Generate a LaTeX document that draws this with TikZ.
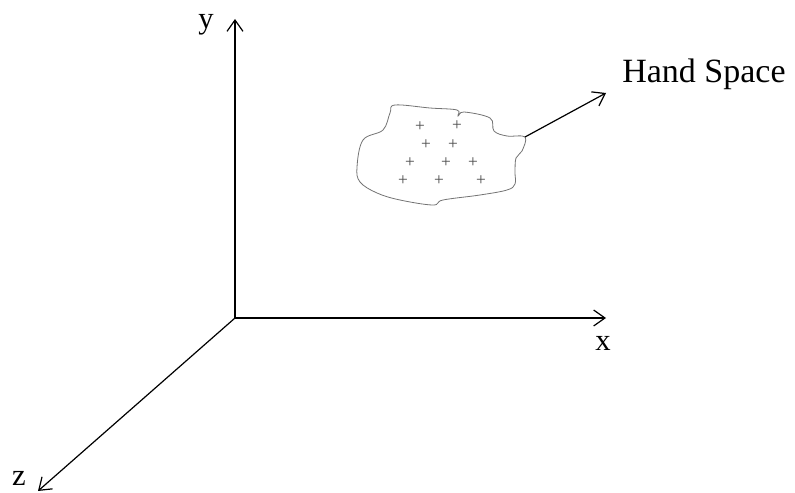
\documentclass[tikz,border=0pt]{standalone}
\usepackage{fontspec}
\setmainfont{Liberation Serif}
\usetikzlibrary{arrows.meta}
\begin{document}
\begin{tikzpicture}[x=0.75pt,y=-0.75pt,
  axis/.style={line width=0.9pt,-{Straight Barb[length=8.5pt,width=12pt,line width=0.9pt]}},
  lbl/.style={font=\fontsize{23}{27}\selectfont,inner sep=0pt},
  biglbl/.style={font=\fontsize{25.5}{30}\selectfont,inner sep=0pt},
  pt/.style={font=\fontsize{13}{15}\selectfont,text=black!70,inner sep=0pt},
  blob/.style={draw=black!55,line width=0.6pt}]
\useasboundingbox (0,0) rectangle (795,492);
\coordinate (o) at (235,318);
\coordinate (ytip) at (235,19);
\coordinate (xtip) at (606,318);
\coordinate (ztip) at (38,491);
\coordinate (att) at (525,137);
\coordinate (htip) at (606,93);
\draw[axis] (o) -- (ytip);
\draw[axis] (o) -- (xtip);
\draw[axis] (o) -- (ztip);
\node[lbl,anchor=base] (ly) at (206,29) {y};
\node[lbl,anchor=base] (lx) at (603,350) {x};
\node[lbl,anchor=base] (lz) at (19,485) {z};
\node[biglbl,anchor=base west] (lh) at (622,82) {Hand Space};
\draw[blob] plot[smooth cycle,tension=0.6] coordinates {
 (395,105) (430,108) (457,110) (458,116) (464,112) (490,118) (494,131)
 (507,136) (525,137) (522,151) (516,158) (515,172) (515,184) (507,190)
 (480,195) (443,200) (433,205) (400,200) (377,193) (360,182) (357,167)
 (363,140) (383,130) (390,113)};
\draw[axis] (att) -- (htip);
\foreach \p/\q [count=\i] in {420/127,457/126,426/145,453/145,410/163,446/163,473/163,403/181,439/181,481/181}
  \node[pt] (p\i) at (\p,\q) {+};
\end{tikzpicture}
\end{document}
